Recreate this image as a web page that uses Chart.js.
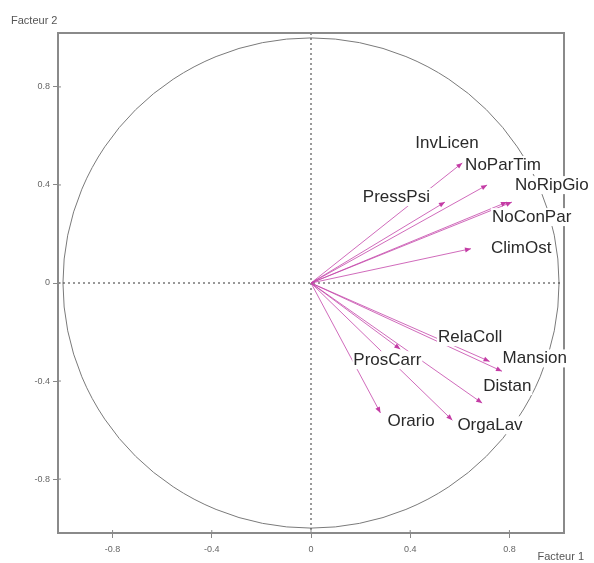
<!DOCTYPE html>
<html>
<head>
<meta charset="utf-8">
<script src="https://cdn.jsdelivr.net/npm/chart.js@4/dist/chart.umd.min.js"></script>
<style>
  body { margin: 0; background: #fff; }
  #wrap { width: 594px; height: 563px; }
</style>
</head>
<body>
<div id="wrap"><canvas id="cercle" width="594" height="563"></canvas></div>
<script>
// variables du cercle des corrélations
const variables = ['InvLicen', 'PressPsi', 'NoParTim', 'NoRipGio', 'NoConPar', 'ClimOst',
                   'RelaColl', 'Mansion', 'Distan', 'ProsCarr', 'Orario', 'OrgaLav'];
const facteur1 = [0.61, 0.54, 0.71, 0.81, 0.79, 0.645, 0.77, 0.72, 0.69, 0.36, 0.28, 0.57];
const facteur2 = [0.49, 0.33, 0.40, 0.33, 0.33, 0.14, -0.36, -0.32, -0.49, -0.27, -0.53, -0.56];
const graduations = [-0.8, -0.4, 0, 0.4, 0.8];

// placement des étiquettes par rapport à la pointe de la flèche (px)
const decalages = {
    InvLicen: [-47, -20, 'left'],
    PressPsi: [-15, -5, 'right'],
    NoParTim: [-22, -20, 'left'],
    NoRipGio: [3, -17, 'left'],
    NoConPar: [-15, 15, 'left'],
    ClimOst: [20, 0, 'left'],
    RelaColl: [-64, -34, 'left'],
    Mansion: [13, -3, 'left'],
    Distan: [1, -17, 'left'],
    ProsCarr: [-47, 11, 'left'],
    Orario: [7, 8, 'left'],
    OrgaLav: [5, 5, 'left']
};

const couleurFleche = 'rgba(196, 70, 170, 0.8)';

const cerclePlugin = {
    id: 'cercle',
    beforeDatasetsDraw(chart) {
        const ctx = chart.ctx;
        const a = chart.chartArea;
        const x = chart.scales.x, y = chart.scales.y;
        const cx = x.getPixelForValue(0), cy = y.getPixelForValue(0);
        const rx = x.getPixelForValue(1) - cx;
        const ry = cy - y.getPixelForValue(1);
        ctx.save();
        // cercle unité
        ctx.strokeStyle = '#7a7a7a';
        ctx.lineWidth = 1;
        ctx.beginPath();
        ctx.ellipse(cx, cy, rx, ry, 0, 0, Math.PI * 2);
        ctx.stroke();
        // axes pointillés
        ctx.setLineDash([2, 3]);
        ctx.strokeStyle = '#333';
        ctx.beginPath();
        ctx.moveTo(a.left, cy); ctx.lineTo(a.right, cy);
        ctx.moveTo(cx, a.top); ctx.lineTo(cx, a.bottom);
        ctx.stroke();
        ctx.restore();
    },
    afterDatasetsDraw(chart) {
        const ctx = chart.ctx;
        const a = chart.chartArea;
        const x = chart.scales.x, y = chart.scales.y;
        ctx.save();

        // pointes des flèches
        chart.data.datasets.forEach(function(ds, i) {
            const pts = chart.getDatasetMeta(i).data;
            const p0 = pts[0], p1 = pts[1];
            const ang = Math.atan2(p1.y - p0.y, p1.x - p0.x);
            ctx.fillStyle = 'rgb(196, 60, 165)';
            ctx.beginPath();
            ctx.moveTo(p1.x, p1.y);
            ctx.lineTo(p1.x - 6 * Math.cos(ang) + 2.5 * Math.sin(ang), p1.y - 6 * Math.sin(ang) - 2.5 * Math.cos(ang));
            ctx.lineTo(p1.x - 6 * Math.cos(ang) - 2.5 * Math.sin(ang), p1.y - 6 * Math.sin(ang) + 2.5 * Math.cos(ang));
            ctx.closePath();
            ctx.fill();
        });

        // cadre et petites graduations intérieures
        ctx.strokeStyle = '#8a8a8a';
        ctx.lineWidth = 2;
        ctx.strokeRect(a.left, a.top, a.right - a.left, a.bottom - a.top);
        ctx.lineWidth = 1;
        ctx.beginPath();
        graduations.forEach(function(v) {
            const px = x.getPixelForValue(v), py = y.getPixelForValue(v);
            ctx.moveTo(px, a.bottom); ctx.lineTo(px, a.bottom - 3);
            ctx.moveTo(a.left, py); ctx.lineTo(a.left + 3, py);
        });
        ctx.stroke();

        // étiquettes avec fond blanc
        ctx.font = '17px "Liberation Sans", Arial, sans-serif';
        ctx.textBaseline = 'middle';
        chart.data.datasets.forEach(function(ds, i) {
            const p1 = chart.getDatasetMeta(i).data[1];
            const d = decalages[ds.label];
            const w = ctx.measureText(ds.label).width;
            let gx = p1.x + d[0];
            if (d[2] === 'right') gx -= w;
            const gy = p1.y + d[1];
            ctx.fillStyle = '#fff';
            ctx.fillRect(gx - 1, gy - 9, w + 2, 18);
            ctx.fillStyle = '#2a2a2a';
            ctx.textAlign = 'left';
            ctx.fillText(ds.label, gx, gy);
        });

        // titres des axes
        ctx.font = '11px "Liberation Sans", Arial, sans-serif';
        ctx.fillStyle = '#555';
        ctx.textAlign = 'left';
        ctx.fillText('Facteur 2', 11, 21);
        ctx.textAlign = 'right';
        ctx.fillText('Facteur 1', 584, 557);
        ctx.restore();
    }
};

const datasets = variables.map(function(nom, i) {
    return {
        label: nom,
        data: [{ x: 0, y: 0 }, { x: facteur1[i], y: facteur2[i] }],
        showLine: true,
        borderColor: couleurFleche,
        borderWidth: 1,
        pointRadius: 0
    };
});

function echelle(taille, cote) {
    return {
        type: 'linear',
        min: -1.02,
        max: 1.02,
        afterBuildTicks: function(s) {
            s.ticks = graduations.map(function(v) { return { value: v }; });
        },
        afterFit: function(s) {
            if (cote === 'x') s.height = taille; else s.width = taille;
        },
        border: { display: false },
        grid: { display: true, drawOnChartArea: false, drawTicks: true, tickLength: 5, color: '#888' },
        ticks: {
            color: '#666',
            font: { size: 9, family: '"Liberation Sans", Arial, sans-serif' },
            padding: cote === 'x' ? 6 : 3,
            callback: function(v) { return String(v); }
        }
    };
}

new Chart(document.getElementById('cercle'), {
    type: 'scatter',
    data: { datasets: datasets },
    options: {
        responsive: false,
        animation: false,
        layout: { padding: { top: 33, right: 30, left: 0, bottom: 0 } },
        plugins: { legend: { display: false }, tooltip: { enabled: false } },
        scales: {
            x: echelle(30, 'x'),
            y: echelle(58, 'y')
        }
    },
    plugins: [cerclePlugin]
});
</script>
</body>
</html>
